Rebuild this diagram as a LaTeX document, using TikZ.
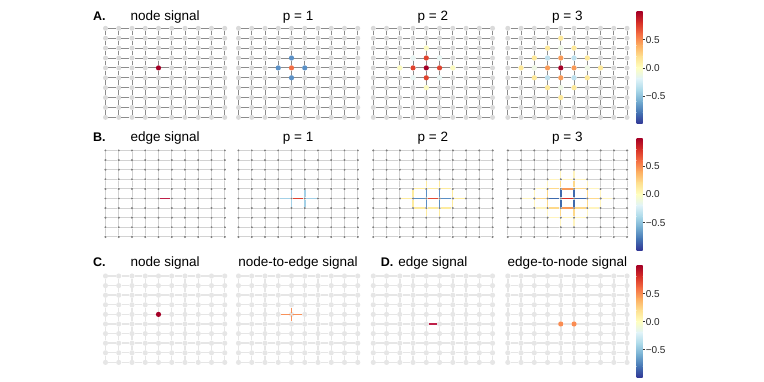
\documentclass[tikz,border=0pt]{standalone}
\usepackage{fontspec}
\setmainfont{Liberation Sans}
\definecolor{cm0}{HTML}{313695}
\definecolor{cm1}{HTML}{4575B4}
\definecolor{cm2}{HTML}{74ADD1}
\definecolor{cm3}{HTML}{ABD9E9}
\definecolor{cm4}{HTML}{E0F3F8}
\definecolor{cm5}{HTML}{FFFFBF}
\definecolor{cm6}{HTML}{FEE090}
\definecolor{cm7}{HTML}{FDAE61}
\definecolor{cm8}{HTML}{F46D43}
\definecolor{cm9}{HTML}{D73027}
\definecolor{cm10}{HTML}{A50026}
\definecolor{sigRed}{HTML}{BE2049}
\definecolor{nodeA}{HTML}{DADADA}
\definecolor{edgeA}{HTML}{8C8C8C}
\definecolor{nodeB}{HTML}{7F7F7F}
\definecolor{edgeB}{HTML}{D2D2D2}
\definecolor{lightC}{HTML}{E6E6E6}
\definecolor{aOrange}{HTML}{F46D43}
\definecolor{aBlue}{HTML}{5B91C7}
\definecolor{aRed}{HTML}{E0442F}
\definecolor{aPaleCyan}{HTML}{E8F5F3}
\definecolor{aPaleYellow}{HTML}{FCFBC0}
\definecolor{aOrange4}{HTML}{F99B58}
\definecolor{aLightBlue}{HTML}{BEE0EE}
\definecolor{aPale4}{HTML}{EEF7E4}
\definecolor{aYellow}{HTML}{FEE99A}
\definecolor{bLightBlue}{HTML}{A3D0E6}
\definecolor{bRed2}{HTML}{E0422F}
\definecolor{bRed3}{HTML}{E34A33}
\definecolor{bBlue3}{HTML}{5A8FC5}
\definecolor{bYellow3}{HTML}{FDEB9E}
\definecolor{bBlue4}{HTML}{3E6AAE}
\definecolor{bOrange4}{HTML}{F99B58}
\definecolor{bYellow4}{HTML}{FED98A}
\definecolor{bPale4}{HTML}{FFF4BE}
\definecolor{cOrange}{HTML}{F8915A}
\definecolor{cNodeOrange}{HTML}{FA8C52}

% #1 name, #2 x0, #3 y0, #4 dy, #5 node style, #6 edge style
\newcommand\gridpanel[6]{%
  \foreach \i in {0,...,9}{%
    \foreach \j in {0,...,9}{%
      \node[#5] (#1-\i-\j) at ({#2+\i*13.25},{#3+\j*#4}) {};
    }%
  }%
  \foreach \i in {0,...,9}{%
    \foreach \j [evaluate=\j as \k using int(\j+1)] in {0,...,8}{%
      \draw[#6] (#1-\i-\j) -- (#1-\i-\k);
      \draw[#6] (#1-\j-\i) -- (#1-\k-\i);
    }%
  }%
}
% colored edge: #1 panel, #2 node a, #3 node b, #4 style
\newcommand\sedge[4]{\draw[#4] (#1-#2) -- (#1-#3);}
% colorbar with top at #1
\newcommand\cbar[1]{%
  \foreach \k [evaluate=\k as \a using int(10-\k), evaluate=\k as \b using int(9-\k)] in {0,...,9}{%
    \shade[top color=cm\a, bottom color=cm\b] (636.7,{#1+\k*11.2-0.2}) rectangle (642.7,{#1+(\k+1)*11.2+0.2});
  }%
  \foreach \v/\t in {0.5/0.5, 0/0.0, -0.5/−0.5}{%
    \draw[line width=0.6pt,black!80] (642.7,{#1+56.2-\v*56.2}) -- ++(2.6,0);
    \node[cbtick] at (645.6,{#1+56.2-\v*56.2}) {\t};
  }%
}

\begin{document}
\begin{tikzpicture}[x=1pt,y=-1pt,
  anode/.style={circle,inner sep=0pt,minimum size=5pt,fill=nodeA,draw=none},
  aedge/.style={draw=edgeA,line width=0.9pt},
  asig/.style={circle,inner sep=0pt,minimum size=5.2pt,draw=none},
  bnode/.style={circle,inner sep=0pt,minimum size=2.4pt,fill=nodeB,draw=none},
  bedge/.style={draw=edgeB,line width=0.9pt},
  cnode/.style={circle,inner sep=0pt,minimum size=5.2pt,fill=lightC,draw=none},
  cedge/.style={draw=lightC,line width=1.4pt},
  csig/.style={circle,inner sep=0pt,minimum size=5.2pt,draw=none},
  sigedge/.style={line width=1.5pt},
  paleedge/.style={line width=1.2pt},
  title/.style={font=\fontsize{13.5}{16}\selectfont,anchor=base},
  plabel/.style={font=\bfseries\fontsize{12.5}{15}\selectfont,anchor=base west},
  cbtick/.style={font=\fontsize{10}{12}\selectfont,anchor=west,inner sep=0pt,text=black!85}
]
\useasboundingbox (0,0) rectangle (764,382);

% ---------------- Row A ----------------
\node[plabel] (labA) at (89.5,20.7) {A.};
\node[title] (tA1) at (165.1,20.7) {node signal};
\node[title] (tA2) at (298.1,20.7) {p = 1};
\node[title] (tA3) at (432.9,20.7) {p = 2};
\node[title] (tA4) at (567.4,20.7) {p = 3};

\gridpanel{a1}{105.5}{28.3}{9.9}{anode}{aedge}
\gridpanel{a2}{238.5}{28.3}{9.9}{anode}{aedge}
\gridpanel{a3}{373.3}{28.3}{9.9}{anode}{aedge}
\gridpanel{a4}{507.8}{28.3}{9.9}{anode}{aedge}

\node[asig,fill=cm10] (a1-s) at (a1-4-4) {};

\foreach \p in {3-4,5-4,4-3,4-5}{\node[asig,fill=aBlue] (a2-s\p) at (a2-\p) {};}
\node[asig,fill=aOrange] (a2-s) at (a2-4-4) {};

\foreach \p in {3-3,5-3,3-5,5-5}{\node[asig,fill=aPaleCyan] (a3-s\p) at (a3-\p) {};}
\foreach \p in {2-4,6-4,4-2,4-6}{\node[asig,fill=aPaleYellow] (a3-s\p) at (a3-\p) {};}
\foreach \p in {3-4,5-4,4-3,4-5}{\node[asig,fill=aRed] (a3-s\p) at (a3-\p) {};}
\node[asig,fill=cm10] (a3-s) at (a3-4-4) {};

\foreach \p in {3-3,5-3,3-5,5-5}{\node[asig,fill=aLightBlue] (a4-s\p) at (a4-\p) {};}
\foreach \p in {2-4,6-4,4-2,4-6}{\node[asig,fill=aPale4] (a4-s\p) at (a4-\p) {};}
\foreach \p in {3-2,5-2,2-3,6-3,2-5,6-5,3-6,5-6,1-4,7-4,4-1,4-7}{\node[asig,fill=aYellow] (a4-s\p) at (a4-\p) {};}
\foreach \p in {3-4,5-4,4-3,4-5}{\node[asig,fill=aOrange4] (a4-s\p) at (a4-\p) {};}
\node[asig,fill=cm10] (a4-s) at (a4-4-4) {};

\cbar{11.7}

% ---------------- Row B ----------------
\node[plabel] (labB) at (89.5,141.3) {B.};
\node[title] (tB1) at (165.1,141.3) {edge signal};
\node[title] (tB2) at (298.1,141.3) {p = 1};
\node[title] (tB3) at (432.9,141.3) {p = 2};
\node[title] (tB4) at (567.4,141.3) {p = 3};

\gridpanel{b1}{105.5}{150.5}{9.6}{bnode}{bedge}
\gridpanel{b2}{238.5}{150.5}{9.6}{bnode}{bedge}
\gridpanel{b3}{373.3}{150.5}{9.6}{bnode}{bedge}
\gridpanel{b4}{507.8}{150.5}{9.6}{bnode}{bedge}

\sedge{b1}{4-5}{5-5}{sigedge,draw=sigRed}

\foreach \p/\q in {3-5/4-5,5-5/6-5,4-4/4-5,4-5/4-6,5-4/5-5,5-5/5-6}{\sedge{b2}{\p}{\q}{sigedge,draw=bLightBlue}}
\sedge{b2}{4-5}{5-5}{sigedge,draw=bRed2}

\foreach \p/\q in {2-5/3-5,3-4/3-5,3-5/3-6,6-5/7-5,6-4/6-5,6-5/6-6,3-4/4-4,4-4/5-4,4-3/4-4,3-6/4-6,4-6/5-6,4-6/4-7,5-4/6-4,5-3/5-4,5-6/6-6,5-6/5-7}{\sedge{b3}{\p}{\q}{paleedge,draw=bYellow3}}
\foreach \p/\q in {3-5/4-5,5-5/6-5,4-4/4-5,4-5/4-6,5-4/5-5,5-5/5-6}{\sedge{b3}{\p}{\q}{sigedge,draw=bBlue3}}
\sedge{b3}{4-5}{5-5}{sigedge,draw=bRed3}

\foreach \p/\q in {1-5/2-5,2-4/2-5,2-5/2-6,7-5/8-5,7-4/7-5,7-5/7-6,2-4/3-4,3-3/3-4,2-6/3-6,3-6/3-7,6-4/7-4,6-3/6-4,6-6/7-6,6-6/6-7,3-3/4-3,4-3/5-3,4-2/4-3,5-3/6-3,5-2/5-3,3-7/4-7,4-7/5-7,4-7/4-8,5-7/6-7,5-7/5-8}{\sedge{b4}{\p}{\q}{paleedge,draw=bPale4}}
\foreach \p/\q in {2-5/3-5,3-4/3-5,3-5/3-6,6-5/7-5,6-4/6-5,6-5/6-6,3-4/4-4,4-3/4-4,3-6/4-6,4-6/4-7,5-4/6-4,5-3/5-4,5-6/6-6,5-6/5-7}{\sedge{b4}{\p}{\q}{paleedge,draw=bYellow4}}
\foreach \p/\q in {4-4/5-4,4-6/5-6}{\sedge{b4}{\p}{\q}{sigedge,draw=bOrange4}}
\foreach \p/\q in {3-5/4-5,5-5/6-5,4-4/4-5,4-5/4-6,5-4/5-5,5-5/5-6}{\sedge{b4}{\p}{\q}{sigedge,draw=bBlue4}}
\sedge{b4}{4-5}{5-5}{sigedge,draw=cm9}

\cbar{138.3}

% ---------------- Row C / D ----------------
\node[plabel] (labC) at (89.5,266.5) {C.};
\node[plabel] (labD) at (377.3,266.5) {D.};
\node[title] (tC1) at (165.1,266.5) {node signal};
\node[title] (tC2) at (298.1,266.5) {node-to-edge signal};
\node[title] (tD1) at (432.9,266.5) {edge signal};
\node[title] (tD2) at (567.4,266.5) {edge-to-node signal};

\gridpanel{c1}{105.5}{276}{9.6}{cnode}{cedge}
\gridpanel{c2}{238.5}{276}{9.6}{cnode}{cedge}
\gridpanel{d1}{373.3}{276}{9.6}{cnode}{cedge}
\gridpanel{d2}{507.8}{276}{9.6}{cnode}{cedge}

\node[csig,fill=cm10] (c1-s) at (c1-4-4) {};
\foreach \q in {3-4,5-4,4-3,4-5}{\draw[line width=1.6pt,draw=cOrange] (c2-4-4.center) -- (c2-\q);}
\node[cnode,minimum size=2.4pt] (c2-mid) at (c2-4-4) {};
\sedge{d1}{4-5}{5-5}{sigedge,draw=sigRed}
\node[csig,fill=cNodeOrange] (d2-sa) at (d2-4-5) {};
\node[csig,fill=cNodeOrange] (d2-sb) at (d2-5-5) {};

\cbar{265.5}
\end{tikzpicture}
\end{document}
